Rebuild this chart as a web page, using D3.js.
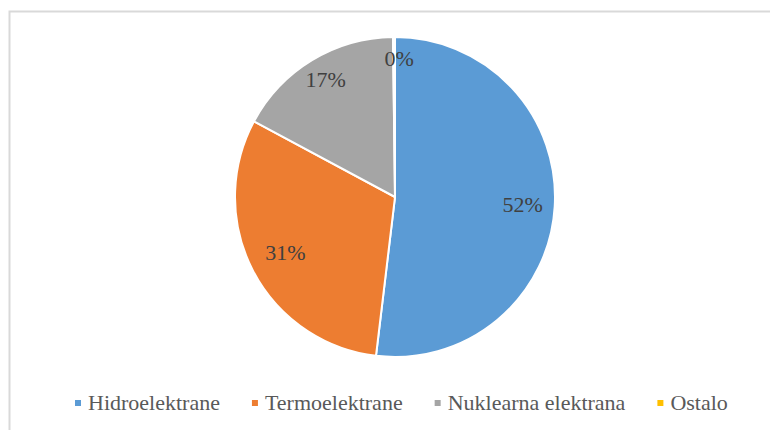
<!DOCTYPE html>
<html>
<head>
<meta charset="utf-8">
<script src="https://cdn.jsdelivr.net/npm/d3@7"></script>
</head>
<body style="margin:0">
<script>
var width = 770,
    height = 430;

// shares (percent)
var categories = ["Hidroelektrane", "Termoelektrane", "Nuklearna elektrana", "Ostalo"];
var values = [52, 31, 17, 0.2];
var labels = ["52%", "31%", "17%", "0%"];
var colors = ["#5B9BD5", "#ED7D31", "#A5A5A5", "#FFC000"];

var cx = 395, cy = 197, radius = 160;

var svg = d3.select("body")
    .append("svg")
    .attr("width", width)
    .attr("height", height)
    .style("font-family", "Liberation Serif");

// chart frame
svg.append("rect")
    .attr("x", 9.5)
    .attr("y", 11.5)
    .attr("width", width + 10)
    .attr("height", height + 10)
    .attr("fill", "none")
    .attr("stroke", "#d9d9d9")
    .attr("stroke-width", 2);

var data = categories.map(function(c, i) {
  return {name: c, value: values[i], label: labels[i], color: colors[i]};
});

var pie = d3.pie()
    .sort(null)
    .value(function(d) { return d.value; });

var arc = d3.arc()
    .innerRadius(0)
    .outerRadius(radius);

var labelArc = d3.arc()
    .innerRadius(128)
    .outerRadius(128);

var g = svg.append("g")
    .attr("transform", "translate(" + cx + "," + cy + ")");

var arcs = pie(data);

g.selectAll("path")
    .data(arcs)
    .enter().append("path")
    .attr("d", arc)
    .attr("fill", function(d) { return d.data.color; })
    .attr("stroke", "#fff")
    .attr("stroke-width", 2);

// label offsets roughly where Excel put them
var labelShift = {"52%": [0, 0], "31%": [4, -3], "17%": [-3, -8], "0%": [5, -10]};

g.selectAll("text.lbl")
    .data(arcs)
    .enter().append("text")
    .attr("class", "lbl")
    .attr("x", function(d) { return labelArc.centroid(d)[0] + labelShift[d.data.label][0]; })
    .attr("y", function(d) { return labelArc.centroid(d)[1] + labelShift[d.data.label][1] + 7; })
    .attr("text-anchor", "middle")
    .attr("fill", "#404040")
    .style("font-family", "Liberation Serif")
    .style("font-size", "22px")
    .text(function(d) { return d.data.label; });

// legend
var lx = 75, ly = 403;
data.forEach(function(d) {
  svg.append("rect")
      .attr("x", lx)
      .attr("y", ly - 3)
      .attr("width", 6)
      .attr("height", 6)
      .attr("fill", d.color);
  var t = svg.append("text")
      .attr("x", lx + 13)
      .attr("y", ly + 7)
      .attr("fill", "#595959")
      .style("font-family", "Liberation Serif")
      .style("font-size", "22px")
      .text(d.name);
  lx += 13 + t.node().getComputedTextLength() + 32;
});
</script>
</body>
</html>
